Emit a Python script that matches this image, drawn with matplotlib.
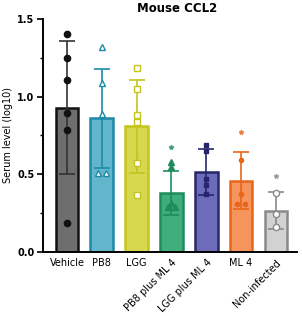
import matplotlib.pyplot as plt
import numpy as np

groups = ["Vehicle", "PB8", "LGG", "PB8 plus ML 4", "LGG plus ML 4", "ML 4", "Non-infected"]
means = [0.93, 0.86, 0.81, 0.38, 0.515, 0.46, 0.265]
sds = [0.43, 0.32, 0.30, 0.14, 0.145, 0.185, 0.12]
points = [
    [1.40, 1.25, 1.11, 0.895, 0.785, 0.187],
    [1.32, 1.09, 0.89, 0.51, 0.51],
    [1.185, 1.05, 0.88, 0.84, 0.57, 0.37],
    [0.58, 0.55, 0.315, 0.29, 0.29],
    [0.69, 0.65, 0.47, 0.43, 0.375],
    [0.59, 0.375, 0.31, 0.31],
    [0.38, 0.245, 0.16],
]
outliers = [[], [], [], [0.676], [], [0.77], [0.49]]

faces = ["#6e6e6e", "#62b6cc", "#d6d84e", "#3fae7c", "#6c6cba", "#f5955c", "#d2d2d2"]
edges = ["#111111", "#1e8aa6", "#c4c41c", "#1e8c5c", "#26266c", "#e8661c", "#8a8a8a"]
errc = ["#333333", "#1e8aa6", "#c4c41c", "#1e8c5c", "#26266c", "#e8661c", "#8a8a8a"]
mk = ["o", "^", "s", "^", "s", "o", "o"]
mfill = [True, False, False, True, True, True, False]
msz = [4.5, 4, 4, 3.8, 3.5, 3, 4.5]

fig = plt.figure(figsize=(3.02, 3.16), dpi=100)
ax = fig.add_axes([0.142, 0.2025, 0.841, 0.7375])

x = np.arange(len(groups))
ax.bar(x, means, width=0.65, color=faces, edgecolor=edges, linewidth=1.8, zorder=1)
for i in range(len(groups)):
    ax.errorbar(x[i], means[i], yerr=sds[i], color=errc[i], capsize=6, elinewidth=1.2,
                capthick=1.2, zorder=2)
    n = len(points[i])
    offs = np.zeros(n)
    vals = np.array(points[i])
    # spread duplicates sideways a little
    for a in range(n):
        same = [b for b in range(n) if abs(vals[b] - vals[a]) < 0.02]
        if len(same) > 1:
            k = same.index(a)
            offs[a] = (k - (len(same) - 1) / 2) * 0.22
    fc = edges[i] if mfill[i] else "white"
    ax.plot(x[i] + offs, vals, linestyle="none", marker=mk[i], ms=msz[i],
            mfc=fc, mec=edges[i], mew=1, zorder=3)
    if outliers[i]:
        ax.plot([x[i]] * len(outliers[i]), outliers[i], linestyle="none", marker="*",
                ms=3.5, color=errc[i], alpha=0.7, zorder=3)

ax.set_xlim(-0.69, 6.6)
ax.set_ylim(0, 1.5)
ax.set_yticks([0, 0.5, 1.0, 1.5])
ax.set_yticklabels(["0.0", "0.5", "1.0", "1.5"], fontweight="bold", fontsize=7)
ax.set_yticks([0.25, 0.75, 1.25], minor=True)
ax.tick_params(axis="y", which="major", length=4, width=1.2, pad=2)
ax.tick_params(axis="y", which="minor", length=2, width=1)
ax.tick_params(axis="x", length=0, pad=4)
ax.set_xticks(x)
ax.set_xticklabels(groups, fontsize=7)
for i, lab in enumerate(ax.get_xticklabels()):
    if i in (3, 4, 6):
        lab.set_rotation(45)
        lab.set_ha("right")
        lab.set_rotation_mode("anchor")
ax.set_ylabel("Serum level (log10)", fontsize=7, labelpad=3)
ax.set_title("Mouse CCL2", fontweight="bold", fontsize=8.5, pad=5, x=0.53)
for s in ["top", "right"]:
    ax.spines[s].set_visible(False)
ax.spines["left"].set_linewidth(1.4)
ax.spines["bottom"].set_linewidth(1.4)

fig.savefig("out.png", dpi=100)
